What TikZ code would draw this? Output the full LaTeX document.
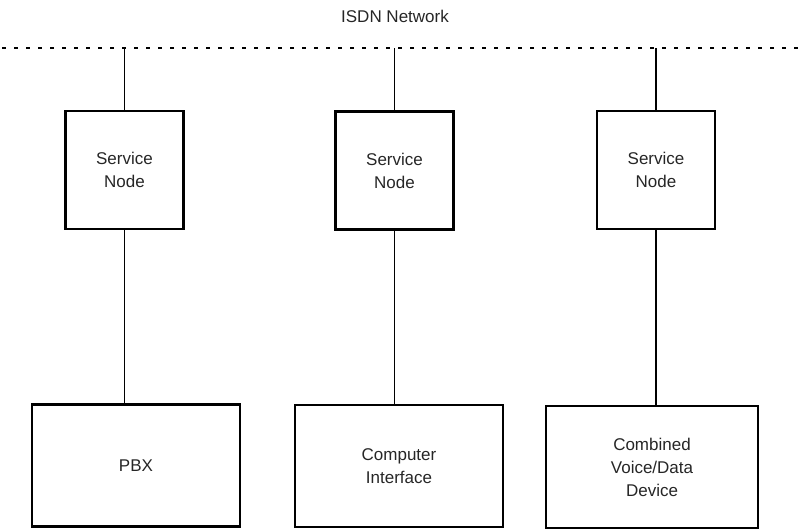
\documentclass[tikz,border=0pt]{standalone}
\usepackage{fontspec}
\setmainfont{Liberation Sans}
\begin{document}
\begin{tikzpicture}[x=1pt,y=-1pt,
  txt/.style={font=\fontsize{17}{23}\selectfont, text=black!85},
  box/.style={txt, draw=black, line width=2.4pt, inner sep=0pt, align=center},
  svc/.style={box, minimum width=118pt, minimum height=118pt},
  dev/.style={box, minimum width=208pt, minimum height=122pt},
  link/.style={line width=1.8pt},
  bus/.style={line width=2.6pt, dash pattern=on 3.5pt off 8.5pt}]
\useasboundingbox (0,0) rectangle (806,529);

% network bus and its caption
\node[txt] (title) at (395,16) {ISDN Network};
\coordinate (busL) at (2,48);
\coordinate (busR) at (806,48);
\draw[bus] (busL) -- (busR);

% service nodes
\node[svc] (sn1) at (124.5,170) {Service\\Node};
\node[svc] (sn2) at (394.5,170.5) {Service\\Node};
\node[svc] (sn3) at (656,170) {Service\\Node};

% attached devices
\node[dev] (pbx) at (136,465.5) {PBX};
\node[dev] (comp) at (399,466) {Computer\\Interface};
\node[dev, minimum width=212pt] (cvd) at (652,467) {Combined\\Voice/Data\\Device};

% drops from the bus
\foreach \s in {sn1,sn2,sn3}
  \draw[link] (\s.north) -- (\s.north |- busL);

% links to the devices
\draw[link] (sn1.south) -- (sn1.south |- pbx.north);
\draw[link] (sn2.south) -- (sn2.south |- comp.north);
\draw[link] (sn3.south) -- (sn3.south |- cvd.north);
\end{tikzpicture}
\end{document}
